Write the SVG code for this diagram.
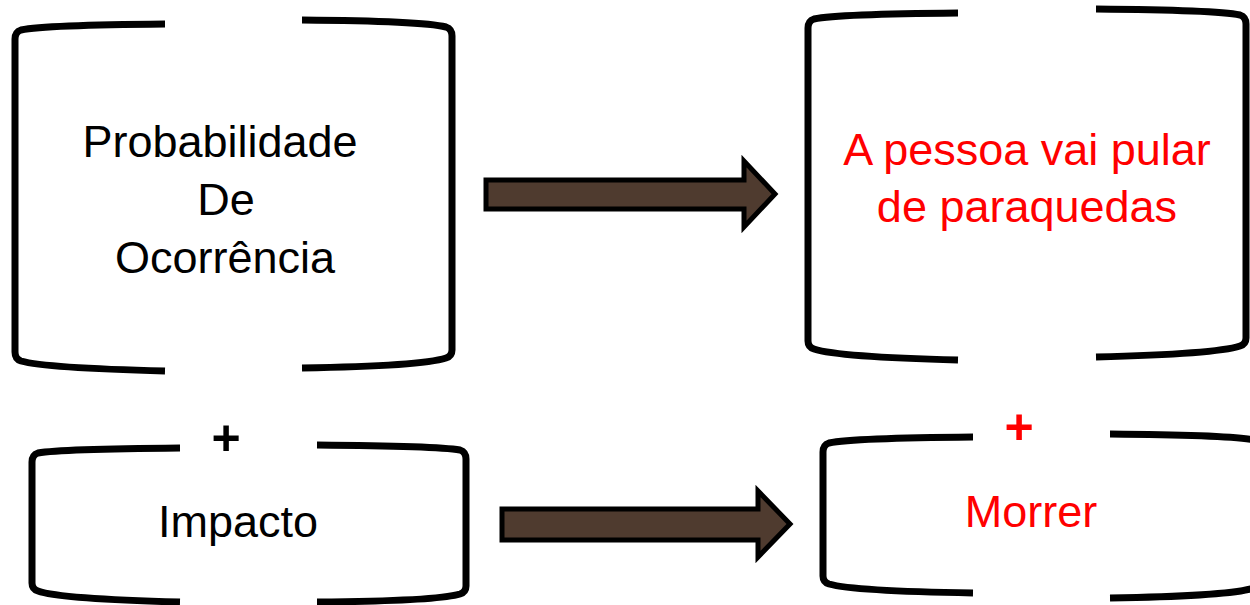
<svg xmlns="http://www.w3.org/2000/svg" width="1250" height="605" viewBox="0 0 1250 605">
<style>
.br{fill:none;stroke:#000;stroke-width:7;stroke-linejoin:round}
.arr{fill:#4f3b2f;stroke:#000;stroke-width:5;stroke-linejoin:miter}
.t{font-family:"Liberation Sans",Arial,sans-serif;font-size:45px;text-anchor:middle}
.blk{fill:#000}
.red{fill:#ff0000}
.plus{font-size:50px;font-weight:bold}
</style>
<rect width="1250" height="605" fill="#fff"/>
<g id="node-probabilidade">
<path class="br" d="M165,24 Q45,25 21,30 Q15,32 15,39 L15,352 Q15,359 21,361 Q45,368 165,371"/>
<path class="br" d="M302,20 Q422,21 446,27 Q452,29 452,36 L452,350 Q452,356 446,358 Q422,366 302,368"/>
<text class="t blk" x="220" y="157">Probabilidade</text>
<text class="t blk" x="226" y="215">De</text>
<text class="t blk" x="225" y="273">Ocorrência</text>
</g>
<g id="node-pular">
<path class="br" d="M958,13 Q838,14 814,19 Q808,21 808,28 L808,341 Q808,347 814,349 Q838,357 958,360"/>
<path class="br" d="M1096,9 Q1216,10 1240,15 Q1246,17 1246,24 L1246,338 Q1246,344 1240,346 Q1216,354 1096,357"/>
<text class="t red" x="1027" y="165">A pessoa vai pular</text>
<text class="t red" x="1027" y="222">de paraquedas</text>
</g>
<g id="node-impacto">
<path class="br" d="M180,448 Q60,449 38,453 Q32,455 32,462 L32,583 Q32,589 38,591 Q60,599 180,602"/>
<path class="br" d="M317,445 Q437,446 460,450 Q466,452 466,459 L466,586 Q466,592 460,594 Q437,601 317,602"/>
<text class="t blk plus" x="226" y="455">+</text>
<text class="t blk" x="238" y="537">Impacto</text>
</g>
<g id="node-morrer">
<path class="br" d="M973,437 Q853,438 829,443 Q823,445 823,452 L823,576 Q823,582 829,584 Q853,591 973,593"/>
<path class="br" d="M1110,434 Q1230,435 1254,440 Q1260,442 1260,449 L1260,580 Q1260,586 1254,588 Q1230,596 1110,598"/>
<text class="t red plus" x="1019" y="444">+</text>
<text class="t red" x="1031" y="527">Morrer</text>
</g>
<g id="connectors">
<polygon class="arr" points="486,180 744,180 744,161 775,194 744,227 744,209 486,209"/>
<polygon class="arr" points="502,509 758,509 758,491 790,524 758,557 758,540 502,540"/>
</g>
</svg>
